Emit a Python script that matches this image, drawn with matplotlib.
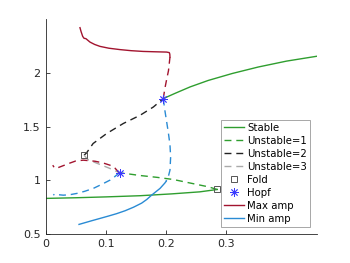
import matplotlib
matplotlib.use("Agg")
import matplotlib.pyplot as plt
from matplotlib.lines import Line2D

# equilibrium branches (parameter, state)
stable_low_x = [0.0, 0.05, 0.10, 0.157, 0.209, 0.256, 0.285]
stable_low_y = [0.832, 0.838, 0.846, 0.857, 0.874, 0.893, 0.915]
stable_high_x = [0.1954, 0.215, 0.24, 0.27, 0.31, 0.353, 0.40, 0.45]
stable_high_y = [1.761, 1.81, 1.87, 1.93, 1.995, 2.055, 2.11, 2.155]
unst1_x = [0.285, 0.27, 0.24, 0.212, 0.185, 0.157, 0.135, 0.123]
unst1_y = [0.915, 0.94, 0.975, 1.008, 1.028, 1.045, 1.062, 1.07]
unst2_x = [0.064, 0.068, 0.079, 0.1015, 0.129, 0.157, 0.179, 0.1954]
unst2_y = [1.234, 1.255, 1.343, 1.436, 1.529, 1.606, 1.683, 1.761]
unst3_x = [0.064, 0.071, 0.085, 0.105, 0.123]
unst3_y = [1.234, 1.19, 1.16, 1.115, 1.07]

fold_x = [0.064, 0.285]
fold_y = [1.234, 0.915]
hopf_x = [0.123, 0.1954]
hopf_y = [1.07, 1.761]

# periodic orbits: max / min amplitude
max1_x = [0.123, 0.121, 0.115, 0.107, 0.095, 0.082, 0.0627, 0.05, 0.041, 0.03, 0.024, 0.018, 0.015, 0.012]
max1_y = [1.07, 1.079, 1.115, 1.141, 1.163, 1.178, 1.188, 1.18, 1.162, 1.138, 1.125, 1.112, 1.115, 1.141]
min1_x = [0.123, 0.121, 0.115, 0.107, 0.093, 0.0793, 0.065, 0.0517, 0.04, 0.0295, 0.022, 0.0186, 0.015, 0.013]
min1_y = [1.07, 1.064, 1.035, 1.002, 0.962, 0.925, 0.898, 0.878, 0.866, 0.862, 0.866, 0.874, 0.872, 0.862]
max2_dash_x = [0.1954, 0.198, 0.201, 0.204, 0.2065]
max2_dash_y = [1.761, 1.854, 1.94, 2.02, 2.148]
max2_x = [0.2065, 0.2062, 0.2054, 0.201, 0.18, 0.162, 0.142, 0.1236, 0.105, 0.0904, 0.0815, 0.0738, 0.067, 0.064, 0.0617, 0.059, 0.0572]
max2_y = [2.148, 2.175, 2.189, 2.194, 2.197, 2.20, 2.207, 2.217, 2.23, 2.247, 2.265, 2.287, 2.319, 2.322, 2.34, 2.385, 2.421]
min2_dash_x = [0.1954, 0.198, 0.201, 0.204, 0.2065, 0.2076, 0.207, 0.2065, 0.204, 0.2]
min2_dash_y = [1.761, 1.652, 1.545, 1.436, 1.33, 1.218, 1.15, 1.095, 1.04, 0.99]
min2_x = [0.2, 0.198, 0.19, 0.176, 0.168, 0.1595, 0.146, 0.132, 0.118, 0.104, 0.09, 0.0766, 0.0556]
min2_y = [0.99, 0.975, 0.925, 0.862, 0.822, 0.788, 0.75, 0.717, 0.69, 0.667, 0.645, 0.624, 0.590]

green = '#2f9e2f'
red = '#a2142f'
blue = '#2a8bd4'
dash = (0, (5, 3.5))

fig = plt.figure(figsize=(3.5, 2.63), dpi=100)
ax = fig.add_axes([0.13, 0.11, 0.775, 0.817])

ax.plot(stable_low_x, stable_low_y, color=green, lw=1)
ax.plot(stable_high_x, stable_high_y, color=green, lw=1)
ax.plot(unst1_x, unst1_y, color=green, lw=1, ls=dash)
ax.plot(unst2_x, unst2_y, color='#222222', lw=1, ls=dash)
ax.plot(unst3_x, unst3_y, color='#aaaaaa', lw=1, ls=dash)

ax.plot(max1_x, max1_y, color=red, lw=1, ls=dash)
ax.plot(min1_x, min1_y, color=blue, lw=1, ls=dash)
ax.plot(max2_dash_x, max2_dash_y, color=red, lw=1, ls=dash)
ax.plot(max2_x, max2_y, color=red, lw=1)
ax.plot(min2_dash_x, min2_dash_y, color=blue, lw=1, ls=dash)
ax.plot(min2_x, min2_y, color=blue, lw=1)

ax.plot(fold_x, fold_y, ls='none', marker='s', ms=4.5, mfc='none', mec='#555555', mew=0.7)
ax.plot(hopf_x, hopf_y, ls='none', marker=(8, 2, 0), ms=6, color='#3a3aff', mew=0.6)

ax.set_xlim(0, 0.45)
ax.set_ylim(0.5, 2.5)
ax.set_xticks([0, 0.1, 0.2, 0.3])
ax.set_xticklabels(['0', '0.1', '0.2', '0.3'])
ax.set_yticks([0.5, 1, 1.5, 2])
ax.set_yticklabels(['0.5', '1', '1.5', '2'])
ax.spines['top'].set_visible(False)
ax.spines['right'].set_visible(False)
for s in ['left', 'bottom']:
    ax.spines[s].set_color('#262626')
    ax.spines[s].set_linewidth(0.6)
ax.tick_params(direction='in', length=3, width=0.6, labelsize=8, colors='#262626')

handles = [
    Line2D([], [], color=green, lw=1),
    Line2D([], [], color=green, lw=1, ls=dash),
    Line2D([], [], color='#222222', lw=1, ls=dash),
    Line2D([], [], color='#aaaaaa', lw=1, ls=dash),
    Line2D([], [], ls='none', marker='s', ms=4.5, mfc='none', mec='#555555', mew=0.7),
    Line2D([], [], ls='none', marker=(8, 2, 0), ms=6, color='#3a3aff', mew=0.6),
    Line2D([], [], color=red, lw=1),
    Line2D([], [], color=blue, lw=1),
]
labels = ['Stable', 'Unstable=1', 'Unstable=2', 'Unstable=3', 'Fold', 'Hopf', 'Max amp', 'Min amp']
leg = ax.legend(handles, labels, loc='lower right', bbox_to_anchor=(0.975, 0.033),
                fontsize=7.3, fancybox=False, framealpha=1, edgecolor='#999999',
                handlelength=2.0, handletextpad=0.3, labelspacing=0.3,
                borderpad=0.3, borderaxespad=0)
leg.get_frame().set_linewidth(0.6)

fig.savefig('out.png', dpi=100)
